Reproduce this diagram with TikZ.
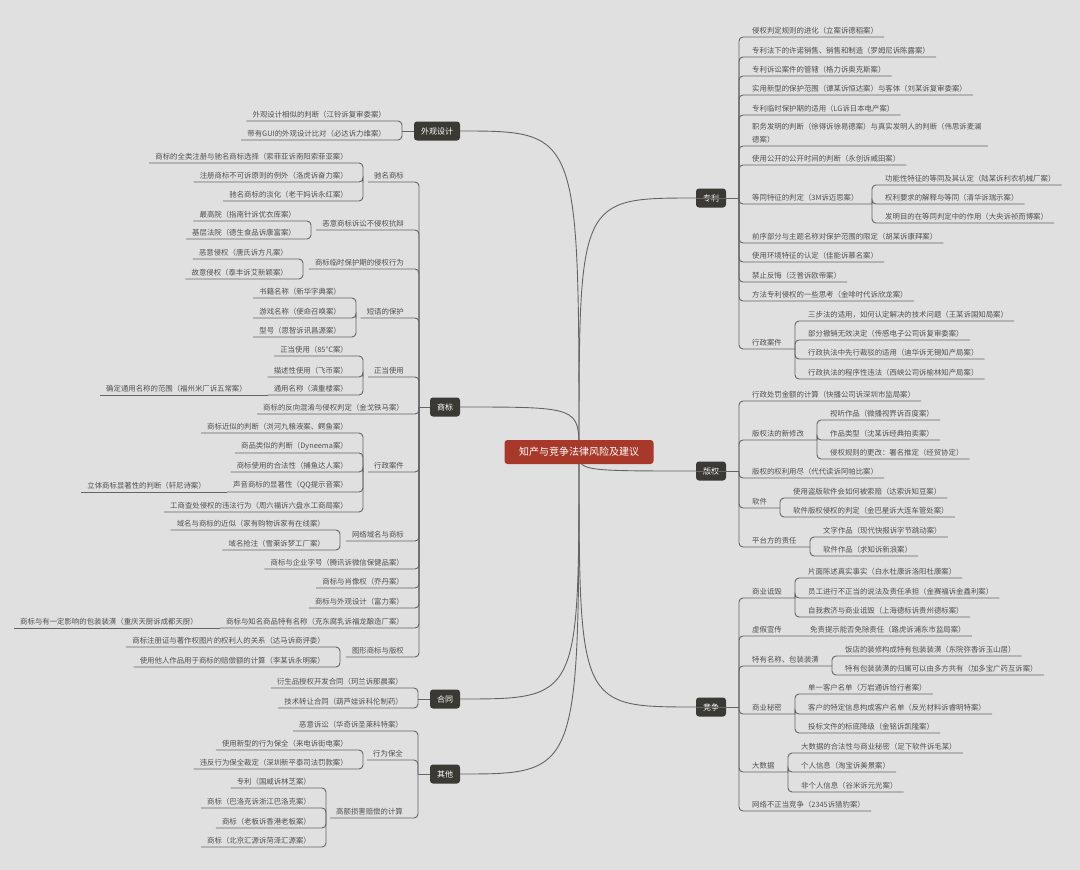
\documentclass[tikz,border=0pt]{standalone}
\usepackage{fontspec}
\setmainfont{Noto Sans CJK SC}
\usepackage{tikz}
\usetikzlibrary{positioning}
\usepackage{xcolor}
\definecolor{bgcolor}{RGB}{224,224,224}
\definecolor{rootcolor}{RGB}{168,57,42}
\definecolor{topiccolor}{RGB}{58,57,52}
\definecolor{leafcolor}{RGB}{80,80,80}
\definecolor{linecolor}{RGB}{100,100,100}
\pgfdeclarelayer{bg}
\pgfsetlayers{bg,main}

\begin{document}
\begin{tikzpicture}[x=1pt, y=-1pt]
  \tikzset{
    rootbox/.style={
      fill=rootcolor,
      rounded corners=3pt,
      text=white,
      font=\fontsize{10}{12}\selectfont,
      minimum width=149pt,
      minimum height=24pt
    },
    topic/.style={
      fill=topiccolor,
      rounded corners=3pt,
      text=white,
      font=\fontsize{8}{10}\selectfont,
      inner xsep=7pt,
      minimum height=19pt
    },
    rleaf/.style={
      anchor=south west,
      text=leafcolor,
      font=\fontsize{7.4}{13}\selectfont,
      inner xsep=6pt,
      inner ysep=3pt,
      align=left
    },
    lleaf/.style={
      rleaf,
      anchor=south east
    },
    link/.style={
      draw=linecolor,
      line width=0.9pt,
      rounded corners=4pt
    }
  }

  % Background
  \begin{pgfonlayer}{bg}
    \fill[bgcolor] (0,0) rectangle (1080,870);
  \end{pgfonlayer}
  \useasboundingbox (0,0) rectangle (1080,870);

  % Root and main topics
  \node[rootbox] at (579, 452) (root) {知产与竞争法律风险及建议};
  \node[topic] at (711, 198) (zl) {专利};
  \node[topic] at (711, 471) (bq) {版权};
  \node[topic] at (711, 707) (jz) {竞争};
  \node[topic] at (437, 131) (wg) {外观设计};
  \node[topic] at (445, 407) (sb) {商标};
  \node[topic] at (445, 699) (ht) {合同};
  \node[topic] at (445, 774) (qt) {其他};

  % Curves from the root
  \begin{pgfonlayer}{bg}
    \draw[link] (root.center) .. controls (root.center |- zl.west) .. (zl.west);
    \draw[link] (root.center) .. controls (root.center |- bq.west) .. (bq.west);
    \draw[link] (root.center) .. controls (root.center |- jz.west) .. (jz.west);
    \draw[link] (root.center) .. controls (root.center |- wg.east) .. (wg.east);
    \draw[link] (root.center) .. controls (root.center |- sb.east) .. (sb.east);
    \draw[link] (root.center) .. controls (root.center |- ht.east) .. (ht.east);
    \draw[link] (root.center) .. controls (root.center |- qt.east) .. (qt.east);
  \end{pgfonlayer}

  % Patent branch
  \coordinate (zlb) at (739, 198);
  \node[rleaf] at (746, 37) (p1) {侵权判定规则的进化（立案诉德稻案）};
  \node[rleaf] at (746, 57) (p2) {专利法下的许诺销售、销售和制造（罗姆尼诉陈露案）};
  \node[rleaf] at (746, 76) (p3) {专利诉讼案件的管辖（格力诉奥克斯案）};
  \node[rleaf] at (746, 95) (p4) {实用新型的保护范围（谭某诉恒达案）与客体（刘某诉复审委案）};
  \node[rleaf] at (746, 115) (p5) {专利临时保护期的适用（LG诉日本电产案）};
  \node[rleaf] at (746, 146) (p6) {职务发明的判断（徐得诉徐易德案）与真实发明人的判断（伟思诉麦澜\\德案）};
  \node[rleaf] at (746, 165) (p7) {使用公开的公开时间的判断（永创诉威田案）};
  \node[rleaf] at (746, 204) (p8) {等同特征的判定（3M诉迈思案）};
  \coordinate (p8x) at (872, 204);
  \node[rleaf] at (879, 185) (p8a) {功能性特征的等同及其认定（陆某诉利农机械厂案）};
  \node[rleaf] at (879, 204) (p8b) {权利要求的解释与等同（清华诉瑞示案）};
  \node[rleaf] at (879, 223) (p8c) {发明目的在等同判定中的作用（大央诉祯而博案）};
  \node[rleaf] at (746, 243) (p9) {前序部分与主题名称对保护范围的限定（胡某诉康拜案）};
  \node[rleaf] at (746, 262) (p10) {使用环境特征的认定（佳能诉慕名案）};
  \node[rleaf] at (746, 282) (p11) {禁止反悔（泛普诉欧帝案）};
  \node[rleaf] at (746, 301) (p12) {方法专利侵权的一些思考（金啡时代诉欣龙案）};
  \node[rleaf] at (746, 349) (p13) {行政案件};
  \coordinate (p13x) at (795, 349);
  \node[rleaf] at (802, 321) (p13a) {三步法的适用，如何认定解决的技术问题（王某诉国知局案）};
  \node[rleaf] at (802, 340) (p13b) {部分撤销无效决定（传感电子公司诉复审委案）};
  \node[rleaf] at (802, 359) (p13c) {行政执法中先行裁驳的适用（迪华诉无锡知产局案）};
  \node[rleaf] at (802, 379) (p13d) {行政执法的程序性违法（西峡公司诉榆林知产局案）};

  \draw[link] (zl.west) -- (zlb);
  \foreach \n in {p1,p2,p3,p4,p5,p6,p7,p9,p10,p11,p12}
    \draw[link] (zlb) |- (\n.south east);
  \draw[link] (zlb) |- (p8x);
  \foreach \n in {p8a,p8b,p8c}
    \draw[link] (p8x) |- (\n.south east);
  \draw[link] (zlb) |- (p13x);
  \foreach \n in {p13a,p13b,p13c,p13d}
    \draw[link] (p13x) |- (\n.south east);

  % Copyright branch
  \coordinate (bqb) at (739, 471);
  \node[rleaf] at (746, 401) (c1) {行政处罚金额的计算（快播公司诉深圳市监局案）};
  \node[rleaf] at (746, 440) (c2) {版权法的新修改};
  \coordinate (c2x) at (817, 440);
  \node[rleaf] at (824, 420) (c2a) {视听作品（微播视界诉百度案）};
  \node[rleaf] at (824, 440) (c2b) {作品类型（沈某诉经典拍卖案）};
  \node[rleaf] at (824, 459) (c2c) {侵权规则的更改：署名推定（经贸协定）};
  \node[rleaf] at (746, 478) (c3) {版权的权利用尽（代代读诉阿帕比案）};
  \node[rleaf] at (746, 508) (c4) {软件};
  \coordinate (c4x) at (780, 508);
  \node[rleaf] at (787, 498) (c4a) {使用盗版软件会如何被索赔（达索诉知豆案）};
  \node[rleaf] at (787, 517) (c4b) {软件版权侵权的判定（金巴星诉大连车管处案）};
  \node[rleaf] at (746, 547) (c5) {平台方的责任};
  \coordinate (c5x) at (810, 547);
  \node[rleaf] at (817, 537) (c5a) {文字作品（现代快报诉字节跳动案）};
  \node[rleaf] at (817, 556) (c5b) {软件作品（求知诉新浪案）};

  \draw[link] (bq.west) -- (bqb);
  \foreach \n in {c1,c3}
    \draw[link] (bqb) |- (\n.south east);
  \draw[link] (bqb) |- (c2x);
  \foreach \n in {c2a,c2b,c2c}
    \draw[link] (c2x) |- (\n.south east);
  \draw[link] (bqb) |- (c4x);
  \foreach \n in {c4a,c4b}
    \draw[link] (c4x) |- (\n.south east);
  \draw[link] (bqb) |- (c5x);
  \foreach \n in {c5a,c5b}
    \draw[link] (c5x) |- (\n.south east);

  % Competition branch
  \coordinate (jzb) at (739, 707);
  \node[rleaf] at (746, 598) (k1) {商业诋毁};
  \coordinate (k1x) at (795, 598);
  \node[rleaf] at (802, 578) (k1a) {片面陈述真实事实（白水杜康诉洛阳杜康案）};
  \node[rleaf] at (802, 598) (k1b) {员工进行不正当的说法及责任承担（金赛福诉金鑫利案）};
  \node[rleaf] at (802, 617) (k1c) {自我救济与商业诋毁（上海德标诉贵州德标案）};
  \node[rleaf] at (746, 636) (k2) {虚假宣传};
  \node[rleaf] at (804, 636) (k2a) {免责提示能否免除责任（路虎诉浦东市监局案）};
  \node[rleaf] at (746, 666) (k3) {特有名称、包装装潢};
  \coordinate (k3x) at (832, 666);
  \node[rleaf] at (839, 656) (k3a) {饭店的装修构成特有包装装潢（东院弥香诉玉山居）};
  \node[rleaf] at (839, 675) (k3b) {特有包装装潢的归属可以由多方共有（加多宝广药互诉案）};
  \node[rleaf] at (746, 714) (k4) {商业秘密};
  \coordinate (k4x) at (795, 714);
  \node[rleaf] at (802, 694) (k4a) {单一客户名单（万岩通诉恰行者案）};
  \node[rleaf] at (802, 714) (k4b) {客户的特定信息构成客户名单（反光材料诉睿明特案）};
  \node[rleaf] at (802, 733) (k4c) {投标文件的标底降级（金铭诉凯隆案）};
  \node[rleaf] at (746, 772) (k5) {大数据};
  \coordinate (k5x) at (788, 772);
  \node[rleaf] at (795, 753) (k5a) {大数据的合法性与商业秘密（足下软件诉毛某）};
  \node[rleaf] at (795, 772) (k5b) {个人信息（淘宝诉美景案）};
  \node[rleaf] at (795, 792) (k5c) {非个人信息（谷米诉元光案）};
  \node[rleaf] at (746, 811) (k6) {网络不正当竞争（2345诉猎豹案）};

  \draw[link] (jz.west) -- (jzb);
  \draw[link] (jzb) |- (k1x);
  \foreach \n in {k1a,k1b,k1c}
    \draw[link] (k1x) |- (\n.south east);
  \draw[link] (jzb) |- (k2a.south east);
  \draw[link] (jzb) |- (k3x);
  \foreach \n in {k3a,k3b}
    \draw[link] (k3x) |- (\n.south east);
  \draw[link] (jzb) |- (k4x);
  \foreach \n in {k4a,k4b,k4c}
    \draw[link] (k4x) |- (\n.south east);
  \draw[link] (jzb) |- (k5x);
  \foreach \n in {k5a,k5b,k5c}
    \draw[link] (k5x) |- (\n.south east);
  \draw[link] (jzb) |- (k6.south east);

  % Design branch
  \coordinate (wgb) at (402, 131);
  \node[lleaf] at (392, 121) (w1) {外观设计相似的判断（江铃诉复审委案）};
  \node[lleaf] at (392, 140) (w2) {带有GUI的外观设计比对（必达诉力维案）};
  \draw[link] (wg.west) -- (wgb);
  \foreach \n in {w1,w2}
    \draw[link] (wgb) |- (\n.south west);

  % Trademark branch
  \coordinate (sbb) at (419, 407);
  \node[lleaf] at (410, 182) (s1) {驰名商标};
  \coordinate (s1x) at (363, 182);
  \node[lleaf] at (354, 163) (s1a) {商标的全类注册与驰名商标选择（索菲亚诉南阳索菲亚案）};
  \node[lleaf] at (354, 182) (s1b) {注册商标不可诉原则的例外（洛虎诉奋力案）};
  \node[lleaf] at (354, 201) (s1c) {驰名商标的淡化（老干妈诉永红案）};
  \node[lleaf] at (410, 230) (s2) {恶意商标诉讼不侵权抗辩};
  \coordinate (s2x) at (311, 230);
  \node[lleaf] at (302, 221) (s2a) {最高院（指南针诉优衣库案）};
  \node[lleaf] at (302, 239) (s2b) {基层法院（德生食品诉康富案）};
  \node[lleaf] at (410, 269) (s3) {商标临时保护期的侵权行为};
  \coordinate (s3x) at (303, 269);
  \node[lleaf] at (294, 259) (s3a) {恶意侵权（唐氏诉方凡案）};
  \node[lleaf] at (294, 279) (s3b) {故意侵权（泰丰诉艾新颖案）};
  \node[lleaf] at (410, 318) (s4) {短语的保护};
  \coordinate (s4x) at (356, 318);
  \node[lleaf] at (347, 298) (s4a) {书籍名称（新华字典案）};
  \node[lleaf] at (347, 318) (s4b) {游戏名称（使命召唤案）};
  \node[lleaf] at (347, 337) (s4c) {型号（思智诉讯昌源案）};
  \node[lleaf] at (410, 377) (s5) {正当使用};
  \coordinate (s5x) at (363, 377);
  \node[lleaf] at (354, 356) (s5a) {正当使用（85°C案）};
  \node[lleaf] at (354, 377) (s5b) {描述性使用（飞币案）};
  \node[lleaf] at (354, 395) (s5c) {通用名称（滇重楼案）};
  \node[lleaf] at (253, 395) (s5d) {确定通用名称的范围（福州米厂诉五常案）};
  \node[lleaf] at (410, 414) (s6) {商标的反向混淆与侵权判定（金戈铁马案）};
  \node[lleaf] at (410, 472) (s7) {行政案件};
  \coordinate (s7x) at (363, 472);
  \node[lleaf] at (354, 433) (s7a) {商标近似的判断（浏河九粮液案、鳄鱼案）};
  \node[lleaf] at (354, 453) (s7b) {商品类似的判断（Dyneema案）};
  \node[lleaf] at (354, 472) (s7c) {商标使用的合法性（捕鱼达人案）};
  \node[lleaf] at (354, 492) (s7d) {声音商标的显著性（QQ提示音案）};
  \node[lleaf] at (212, 492) (s7e) {立体商标显著性的判断（轩尼诗案）};
  \node[lleaf] at (354, 512) (s7f) {工商查处侵权的违法行为（周六福诉六盘水工商局案）};
  \node[lleaf] at (410, 541) (s8) {网络域名与商标};
  \coordinate (s8x) at (340, 541);
  \node[lleaf] at (331, 530) (s8a) {域名与商标的近似（家有购物诉家有在线案）};
  \node[lleaf] at (331, 550) (s8b) {域名抢注（雪莱诉梦工厂案）};
  \node[lleaf] at (410, 569) (s9) {商标与企业字号（腾讯诉微信保健品案）};
  \node[lleaf] at (410, 588) (s10) {商标与肖像权（乔丹案）};
  \node[lleaf] at (410, 608) (s11) {商标与外观设计（富力案）};
  \node[lleaf] at (410, 628) (s12) {商标与知名商品特有名称（克东腐乳诉福龙酿造厂案）};
  \node[lleaf] at (204, 628) (s12a) {商标与有一定影响的包装装潢（重庆天厨诉成都天厨）};
  \node[lleaf] at (410, 657) (s13) {图形商标与版权};
  \coordinate (s13x) at (340, 657);
  \node[lleaf] at (331, 647) (s13a) {商标注册证与著作权图片的权利人的关系（达马诉商评委）};
  \node[lleaf] at (331, 667) (s13b) {使用他人作品用于商标的赔偿额的计算（李某诉永明案）};

  \draw[link] (sb.west) -- (sbb);
  \foreach \n in {s1,s2,s3,s4,s5,s7,s8,s13}
    \draw[link] (sbb) |- (\n.south west);
  \foreach \n in {s6,s9,s10,s11,s12}
    \draw[link] (sbb) |- (\n.south west);
  \foreach \n in {s1a,s1b,s1c}
    \draw[link] (s1x) |- (\n.south west);
  \foreach \n in {s2a,s2b}
    \draw[link] (s2x) |- (\n.south west);
  \foreach \n in {s3a,s3b}
    \draw[link] (s3x) |- (\n.south west);
  \foreach \n in {s4a,s4b,s4c}
    \draw[link] (s4x) |- (\n.south west);
  \foreach \n in {s5a,s5b,s5c}
    \draw[link] (s5x) |- (\n.south west);
  \draw[link] (s5c.south west) -- (s5d.south west);
  \foreach \n in {s7a,s7b,s7c,s7d,s7f}
    \draw[link] (s7x) |- (\n.south west);
  \draw[link] (s7d.south west) -- (s7e.south west);
  \foreach \n in {s8a,s8b}
    \draw[link] (s8x) |- (\n.south west);
  \draw[link] (s12.south west) -- (s12a.south west);
  \foreach \n in {s13a,s13b}
    \draw[link] (s13x) |- (\n.south west);

  % Contract branch
  \coordinate (htb) at (418, 699);
  \node[lleaf] at (409, 688) (h1) {衍生品授权开发合同（珂兰诉那晨案）};
  \node[lleaf] at (409, 708) (h2) {技术转让合同（葫芦娃诉科伦制药）};
  \draw[link] (ht.west) -- (htb);
  \foreach \n in {h1,h2}
    \draw[link] (htb) |- (\n.south west);

  % Other branch
  \coordinate (qtb) at (418, 774);
  \node[lleaf] at (409, 731) (q1) {恶意诉讼（华奇诉圣莱科特案）};
  \node[lleaf] at (409, 760) (q2) {行为保全};
  \coordinate (q2x) at (363, 760);
  \node[lleaf] at (354, 750) (q2a) {使用新型的行为保全（来电诉街电案）};
  \node[lleaf] at (354, 769) (q2b) {违反行为保全裁定（深圳新平泰司法罚款案）};
  \node[lleaf] at (409, 818) (q3) {高额损害赔偿的计算};
  \coordinate (q3x) at (326, 818);
  \node[lleaf] at (317, 788) (q3a) {专利（国威诉林芝案）};
  \node[lleaf] at (317, 808) (q3b) {商标（巴洛克诉浙江巴洛克案）};
  \node[lleaf] at (317, 828) (q3c) {商标（老板诉香港老板案）};
  \node[lleaf] at (317, 847) (q3d) {商标（北京汇源诉菏泽汇源案）};
  \draw[link] (qt.west) -- (qtb);
  \foreach \n in {q1,q2,q3}
    \draw[link] (qtb) |- (\n.south west);
  \foreach \n in {q2a,q2b}
    \draw[link] (q2x) |- (\n.south west);
  \foreach \n in {q3a,q3b,q3c,q3d}
    \draw[link] (q3x) |- (\n.south west);
\end{tikzpicture}
\end{document}
